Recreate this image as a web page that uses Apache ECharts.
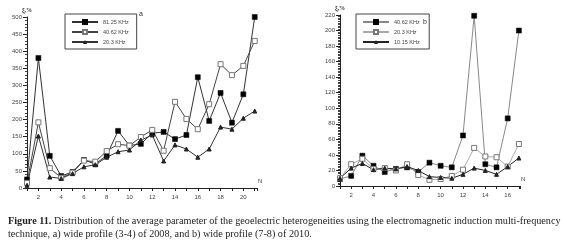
<!DOCTYPE html>
<html>
<head>
<meta charset="utf-8">
<script src="https://cdn.jsdelivr.net/npm/echarts@6/dist/echarts.min.js"></script>
<style>
  html, body { margin: 0; padding: 0; background: #fff; }
  #chart { width: 562px; height: 242px; }
</style>
</head>
<body>
<div id="chart"></div>
<script>
// chart a: profile (3-4) of 2008, N = 1..21
var nA = [1, 2, 3, 4, 5, 6, 7, 8, 9, 10, 11, 12, 13, 14, 15, 16, 17, 18, 19, 20, 21]
var a8125 = [25, 380, 94, 35, 47, 82, 70, 95, 167, 124, 129, 160, 164, 143, 155, 324, 196, 278, 191, 274, 500]
var a4062 = [15, 192, 58, 30, 45, 80, 77, 108, 128, 124, 149, 170, 109, 252, 202, 172, 245, 362, 330, 357, 430]
var a203 = [8, 152, 32, 28, 42, 62, 68, 90, 106, 111, 140, 155, 79, 126, 114, 90, 114, 178, 172, 204, 225]

// chart b: profile (7-8) of 2010, N = 1..17
var nB = [1, 2, 3, 4, 5, 6, 7, 8, 9, 10, 11, 12, 13, 14, 15, 16, 17]
var b4062 = [9, 13, 39, 26, 18, 22, 24, 18, 30, 26, 24, 65, 219, 28, 24, 87, 200]
var b203 = [10, 28, 35, 22, 23, 20, 28, 14, 8, 9, 13, 21, 49, 38, 37, 25, 54]
var b1015 = [10, 23, 29, 21, 23, 22, 25, 20, 12, 11, 10, 15, 23, 20, 15, 25, 36]

function pairs(xs, ys) {
  return xs.map(function(x, i) { return [x, ys[i]] })
}

var small = { fontSize: 6, color: '#444', fontFamily: 'Liberation Sans' }
var axisLine = { lineStyle: { color: '#222', width: 1 } }

function xAxisOf(grid, max) {
  return {
    type: 'value', gridIndex: grid, min: 1, max: max, interval: 1,
    name: 'N', nameLocation: 'end', nameGap: 1,
    nameTextStyle: { fontSize: 6, color: '#444', verticalAlign: 'bottom', padding: [0, 0, 4, 0] },
    axisLine: axisLine,
    axisTick: { length: 3, lineStyle: { color: '#222' } },
    axisLabel: Object.assign({ margin: 6, formatter: function(v) { return v % 2 === 0 ? v : '' } }, small),
    splitLine: { show: false }
  }
}

function yAxisOf(grid, max, step, minor) {
  return {
    type: 'value', gridIndex: grid, min: 0, max: max, interval: step,
    name: 'ξ,%', nameLocation: 'end', nameGap: 4,
    nameTextStyle: { fontSize: 6, color: '#333', fontFamily: 'Liberation Serif', fontWeight: 'bold' },
    axisLine: Object.assign({ show: true }, axisLine),
    axisTick: { length: 4, lineStyle: { color: '#222' } },
    minorTick: { show: true, splitNumber: minor, length: 2, lineStyle: { color: '#444' } },
    axisLabel: Object.assign({ margin: 5 }, small),
    splitLine: { show: false }
  }
}

function filled(name, xs, ys, grid, lineColor) {
  return {
    name: name, type: 'line', xAxisIndex: grid, yAxisIndex: grid,
    data: pairs(xs, ys), symbol: 'rect', symbolSize: 5,
    itemStyle: { color: '#000', borderColor: '#000', borderWidth: 0.5 },
    lineStyle: { color: lineColor, width: 1 }
  }
}
function hollow(name, xs, ys, grid, lineColor) {
  return {
    name: name, type: 'line', xAxisIndex: grid, yAxisIndex: grid,
    data: pairs(xs, ys), symbol: 'rect', symbolSize: 5,
    itemStyle: { color: '#fff', borderColor: '#777', borderWidth: 1 },
    lineStyle: { color: lineColor, width: 1 }
  }
}
function tri(name, xs, ys, grid, lineColor) {
  return {
    name: name, type: 'line', xAxisIndex: grid, yAxisIndex: grid,
    data: pairs(xs, ys), symbol: 'triangle', symbolSize: 4,
    itemStyle: { color: '#222', borderColor: '#222' },
    lineStyle: { color: lineColor, width: 1 }
  }
}

function legendOf(left, names) {
  return {
    left: left, top: 14, orient: 'vertical', data: names,
    itemWidth: 26, itemHeight: 5, itemGap: 4,
    borderColor: '#444', borderWidth: 1, padding: [5, 8, 4, 6],
    textStyle: { fontSize: 5.5, color: '#444', fontFamily: 'Liberation Sans' },
    selectedMode: false
  }
}

var myChart = echarts.init(document.getElementById('chart'), null, { renderer: 'canvas' })

myChart.setOption({
  animation: false,
  backgroundColor: '#fff',
  title: [
    {
      left: 3, top: 210,
      text: '{b|Figure 11.} Distribution of the average parameter of the geoelectric heterogeneities using the electromagnetic induction multi-frequency\ntechnique, a) wide profile (3-4) of 2008, and b) wide profile (7-8) of 2010.',
      textStyle: {
        fontFamily: 'Liberation Serif', fontSize: 10.2, color: '#222', fontWeight: 'normal', lineHeight: 13,
        rich: { b: { fontFamily: 'Liberation Serif', fontSize: 10.2, fontWeight: 'bold', color: '#222' } }
      }
    },
    { text: 'a', left: 134, top: 6, textStyle: { fontSize: 7, color: '#333', fontWeight: 'normal' } },
    { text: 'b', left: 418, top: 14, textStyle: { fontSize: 7, color: '#333', fontWeight: 'normal' } }
  ],
  legend: [
    legendOf(65, ['81.25 KHz', '40.62 KHz', '20.3 KHz']),
    legendOf(356, ['40.62 KHz ', '20.3 KHz ', '10.15 KHz'])
  ],
  grid: [
    { left: 27, top: 17, width: 230, height: 171 },
    { left: 340, top: 15, width: 180, height: 171 }
  ],
  xAxis: [xAxisOf(0, 21.2), xAxisOf(1, 17.1)],
  yAxis: [yAxisOf(0, 500, 50, 5), yAxisOf(1, 220, 20, 10)],
  series: [
    filled('81.25 KHz', nA, a8125, 0, '#333'),
    hollow('40.62 KHz', nA, a4062, 0, '#444'),
    tri('20.3 KHz', nA, a203, 0, '#333'),
    filled('40.62 KHz ', nB, b4062, 1, '#888'),
    hollow('20.3 KHz ', nB, b203, 1, '#aaa'),
    tri('10.15 KHz', nB, b1015, 1, '#222')
  ]
})
</script>
</body>
</html>
